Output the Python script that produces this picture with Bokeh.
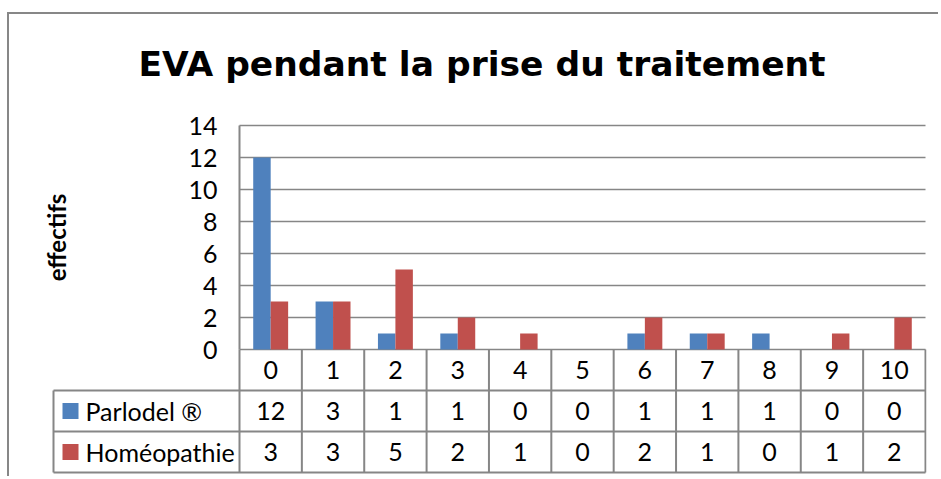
from bokeh.plotting import figure
from bokeh.models import Range1d, FixedTicker, ColumnDataSource
from bokeh.core.properties import value
from bokeh.transform import dodge
from bokeh.embed import file_html
from bokeh.resources import INLINE

# ---- data ----
categories = ["0", "1", "2", "3", "4", "5", "6", "7", "8", "9", "10"]
parlodel = [12, 3, 1, 1, 0, 0, 1, 1, 1, 0, 0]
homeopathie = [3, 3, 5, 2, 1, 0, 2, 1, 0, 1, 2]
series_names = ["Parlodel \u00ae", "Hom\u00e9opathie"]
y_ticks = [0, 2, 4, 6, 8, 10, 12, 14]
title_text = "EVA pendant la prise du traitement"
y_label = "effectifs"

BLUE = "#4F81BD"
RED = "#C0504D"
GRAY = "#868686"
FONT = "Lato"
TFONT = "DejaVu Sans"

n = len(categories)
src = ColumnDataSource(dict(x=list(range(n)), cat=categories, p=parlodel, h=homeopathie,
                            p_lbl=[str(v) for v in parlodel],
                            h_lbl=[str(v) for v in homeopathie]))

# ---- geometry (pixels on the page) ----
MARGIN_X, MARGIN_Y, BORDER = 7, 12, 2
CONTENT_X, CONTENT_Y = MARGIN_X + BORDER, MARGIN_Y + BORDER
FRAME_L, FRAME_R, FRAME_T, FRAME_B = CONTENT_X, 926, 104, 474
AXIS_PX, RIGHT_PX, ZERO_PX, PX_PER_UNIT = 239, 925, 349, 16.0
COL_W = (RIGHT_PX - AXIS_PX) / n


def xd(px):
    return -0.5 + (px - AXIS_PX) / COL_W


def yd(py):
    return (ZERO_PX - py) / PX_PER_UNIT


W = 940 - CONTENT_X
H = 478 - CONTENT_Y

p = figure(width=W, height=H,
           x_range=Range1d(xd(FRAME_L), xd(FRAME_R)),
           y_range=Range1d(yd(FRAME_B), yd(FRAME_T)),
           output_backend="svg", toolbar_location=None, x_axis_location=None,
           min_border_left=FRAME_L - CONTENT_X,
           min_border_right=CONTENT_X + W - FRAME_R,
           min_border_top=FRAME_T - CONTENT_Y,
           min_border_bottom=CONTENT_Y + H - FRAME_B,
           styles={"margin-left": f"{MARGIN_X}px", "margin-top": f"{MARGIN_Y}px",
                   "border-left": f"{BORDER}px solid #878787",
                   "border-top": f"{BORDER}px solid #878787"})
p.outline_line_color = None
p.grid.visible = False

p.title.text = title_text
p.title.align = "left"
p.title.offset = 129
p.title.text_font = TFONT
p.title.text_font_size = "34.5px"
p.title.text_font_style = "bold"
p.title.text_color = "black"
p.title.standoff = 42

row_lines = [yd(390), yd(431), yd(472)]
table_left = xd(53)

ya = p.yaxis[0]
ya.fixed_location = -0.5
ya.bounds = (0, max(y_ticks))
ya.ticker = FixedTicker(ticks=y_ticks)
ya.axis_line_color = GRAY
ya.axis_line_width = 2
ya.major_tick_line_color = None
ya.minor_tick_line_color = None
ya.major_tick_out = 0
ya.major_tick_in = 0
ya.major_label_text_font = FONT
ya.major_label_text_font_size = "25px"
ya.major_label_text_color = "black"
ya.major_label_standoff = 22
ya.axis_label = y_label
ya.axis_label_text_font = FONT
ya.axis_label_text_font_size = "24px"
ya.axis_label_text_font_style = "bold"
ya.axis_label_text_color = "black"
ya.axis_label_standoff = 114

# horizontal grid lines at the ticks
p.segment(x0=[-0.5] * len(y_ticks), y0=y_ticks, x1=[n - 0.5] * len(y_ticks), y1=y_ticks,
          line_color=GRAY, line_width=1.5)

BW = 0.28
p.vbar(x=dodge("x", -BW / 2, range=p.x_range), top="p", width=BW, source=src,
       fill_color=BLUE, line_color=None)
p.vbar(x=dodge("x", BW / 2, range=p.x_range), top="h", width=BW, source=src,
       fill_color=RED, line_color=None)

# ---- data table ----
p.segment(x0=[table_left] * 3, y0=row_lines, x1=[n - 0.5] * 3, y1=row_lines,
          line_color=GRAY, line_width=2)
vx = [k - 0.5 for k in range(0, n + 1)] + [table_left]
vy0 = [row_lines[-1]] * (n + 2)
vy1 = [0] * (n + 1) + [row_lines[0]]
p.segment(x0=vx, y0=vy0, x1=vx, y1=vy1, line_color=GRAY, line_width=2)

y_head = (0 + row_lines[0]) / 2
y_r1 = (row_lines[0] + row_lines[1]) / 2
y_r2 = (row_lines[1] + row_lines[2]) / 2
txt = dict(text_font=value(FONT), text_font_size="25px", text_color="black",
           text_align="center", text_baseline="middle")
p.text(x="x", y=y_head, text="cat", source=src, **txt)
p.text(x="x", y=y_r1, text="p_lbl", source=src, **txt)
p.text(x="x", y=y_r2, text="h_lbl", source=src, **txt)

sq_x = xd(70)
lbl_x = xd(85)
p.scatter(x=[sq_x, sq_x], y=[y_r1, y_r2], marker="square", size=16,
          fill_color=[BLUE, RED], line_color=None)
p.text(x=[lbl_x, lbl_x], y=[y_r1, y_r2], text=series_names,
       text_font=value(FONT), text_font_size="25px", text_color="black",
       text_align="left", text_baseline="middle")

with open("out.html", "w") as f:
    f.write(file_html(p, INLINE))
